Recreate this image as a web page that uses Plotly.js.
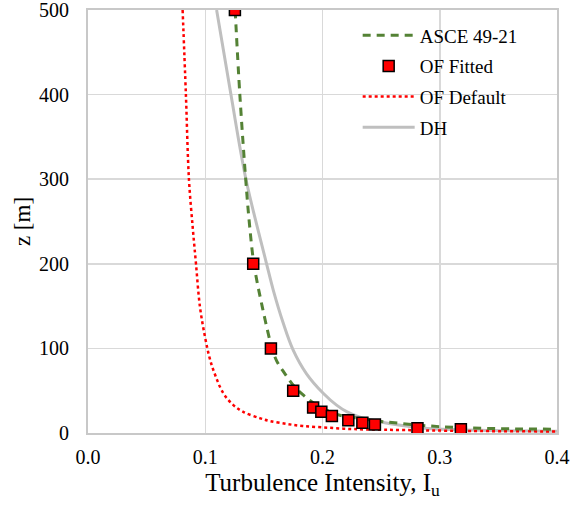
<!DOCTYPE html>
<html>
<head>
<meta charset="utf-8">
<script src="https://cdn.plot.ly/plotly-3.0.1.min.js"></script>
<style>html,body{margin:0;padding:0;background:#fff;}#chart{width:576px;height:506px;}</style>
</head>
<body>
<div id="chart"></div>
<script>
// ASCE 49-21 profile
const asceZ  = [500, 400, 300, 250, 200, 150, 100, 85, 70, 55, 45, 35, 28, 21, 17.3, 14, 11.4, 9, 7.5, 6.3, 5.5, 5, 4.7, 4.5];
const asceIu = [0.1255, 0.1295, 0.1345, 0.1375, 0.1415, 0.1485, 0.157, 0.161, 0.168, 0.176, 0.1835, 0.193, 0.202, 0.2148, 0.232, 0.248, 0.266, 0.285, 0.300, 0.318, 0.337, 0.355, 0.374, 0.40];

// OF Fitted points
const fitZ  = [500, 200, 100, 50, 30, 25, 20, 15, 12, 10, 5.5, 4.4];
const fitIu = [0.1253, 0.1409, 0.156, 0.175, 0.192, 0.199, 0.208, 0.222, 0.234, 0.2447, 0.281, 0.318];

// OF Default profile
const defZ  = [500, 400, 300, 240, 200, 149, 110, 90, 74.5, 47, 33, 25, 17.3, 14.2, 10.6, 8.3, 6.7, 5.1, 4.2, 3.5, 2.5, 1.8];
const defIu = [0.0807, 0.0835, 0.0861, 0.0895, 0.0921, 0.0955, 0.1003, 0.1035, 0.1069, 0.1154, 0.124, 0.1324, 0.147, 0.155, 0.170, 0.183, 0.200, 0.218, 0.237, 0.27, 0.32, 0.40];

// DH profile
const dhZ  = [500, 400, 300, 228, 200, 169, 130, 98, 70, 47, 33, 25, 19, 13, 9.5, 6, 4, 3, 2];
const dhIu = [0.1097, 0.1219, 0.1347, 0.1472, 0.1523, 0.158, 0.1665, 0.175, 0.1864, 0.2006, 0.212, 0.221, 0.2313, 0.25, 0.265, 0.285, 0.31, 0.34, 0.40];

const xTicks = [0.0, 0.1, 0.2, 0.3, 0.4];
const xTickText = ['0.0', '0.1', '0.2', '0.3', '0.4'];
const yTicks = [0, 100, 200, 300, 400, 500];

const serif = 'Liberation Serif';

const traces = [
  {x: dhIu, y: dhZ, name: 'DH', mode: 'lines', legendgroup: 'd', legendrank: 4,
   line: {color: '#bfbfbf', width: 3, shape: 'spline', smoothing: 1}},
  {x: defIu, y: defZ, name: 'OF Default', mode: 'lines', legendgroup: 'c', legendrank: 3,
   line: {color: '#ff0000', width: 2.5, dash: 'dot', shape: 'spline', smoothing: 1}},
  {x: asceIu, y: asceZ, name: 'ASCE 49-21', mode: 'lines', legendgroup: 'a', legendrank: 1,
   line: {color: '#548235', width: 3, dash: '8px,6px', shape: 'spline', smoothing: 1}},
  {x: fitIu, y: fitZ, name: 'OF Fitted', mode: 'markers', legendgroup: 'b', legendrank: 2,
   marker: {symbol: 'square', size: 11, color: '#ff0000', line: {color: '#000000', width: 1.5}}}
];

const layout = {
  width: 576, height: 506,
  margin: {l: 88, r: 19, t: 10, b: 73},
  paper_bgcolor: '#ffffff', plot_bgcolor: '#ffffff',
  font: {family: serif, color: '#000000', size: 20},
  showlegend: true,
  legend: {x: 0.575, y: 0.985, xanchor: 'left', yanchor: 'top', bgcolor: 'rgba(0,0,0,0)',
           font: {family: serif, size: 19, color: '#000'}, tracegroupgap: 3, traceorder: 'grouped',
           itemwidth: 52},
  xaxis: {range: [0, 0.4], tickvals: xTicks, ticktext: xTickText, showgrid: true, gridcolor: '#d9d9d9', gridwidth: 1.5,
          showline: true, linecolor: '#c8c8c8', linewidth: 2, mirror: true, zeroline: false, ticks: '',
          ticklabeloverflow: 'allow', ticklabelstandoff: 5, tickfont: {family: serif, size: 20, color: '#000'},
          title: {text: 'Turbulence Intensity, I<sub>u</sub>', font: {family: serif, size: 25, color: '#000'}, standoff: 6}},
  yaxis: {range: [0, 500], tickvals: yTicks, showgrid: true, gridcolor: '#d9d9d9', gridwidth: 1.5,
          showline: true, linecolor: '#c8c8c8', linewidth: 2, mirror: true, zeroline: false, ticks: '',
          ticklabeloverflow: 'allow', ticklabelstandoff: 13, tickfont: {family: serif, size: 20, color: '#000'},
          title: {text: 'z [m]', font: {family: serif, size: 23, color: '#000'}, standoff: 2}}
};

Plotly.newPlot('chart', traces, layout, {displayModeBar: false, staticPlot: true});
</script>
</body>
</html>
